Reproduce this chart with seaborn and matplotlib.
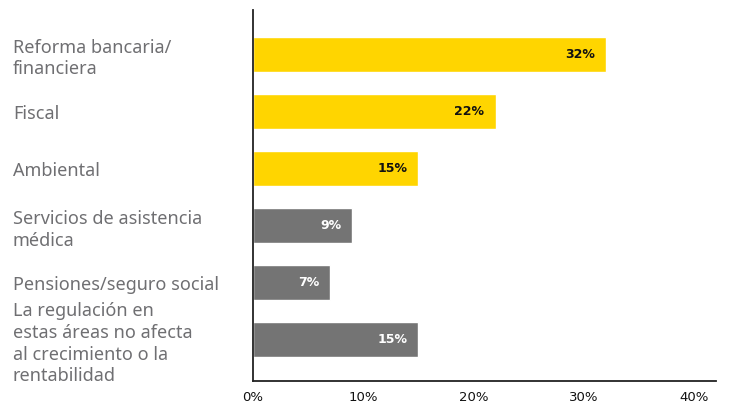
import matplotlib
matplotlib.use("Agg")
import matplotlib.pyplot as plt
import seaborn as sns
import pandas as pd

categories = [
    "Reforma bancaria/\nfinanciera",
    "Fiscal",
    "Ambiental",
    "Servicios de asistencia\nmédica",
    "Pensiones/seguro social",
    "La regulación en\nestas áreas no afecta\nal crecimiento o la\nrentabilidad",
]
values = [32, 22, 15, 9, 7, 15]
groups = ["alto", "alto", "alto", "bajo", "bajo", "bajo"]
tick_values = [0, 10, 20, 30, 40]
tick_labels = ["0%", "10%", "20%", "30%", "40%"]

YELLOW = "#FFD500"
GRAY = "#747474"
palette = {"alto": YELLOW, "bajo": GRAY}
label_colors = {"alto": "#111111", "bajo": "white"}

df = pd.DataFrame({"categoria": categories, "valor": values, "grupo": groups})

sns.set_style("white")
plt.rcParams["font.family"] = ["Noto Sans", "DejaVu Sans"]

fig = plt.figure(figsize=(7.31, 4.09), dpi=100)
ax = fig.add_axes([253 / 731, 28 / 409, (716 - 253) / 731, (381 - 10) / 409])

sns.barplot(data=df, x="valor", y="categoria", hue="grupo", palette=palette,
            dodge=False, width=0.61, legend=False, ax=ax, saturation=1)

ax.set_xlim(0, 42)
ax.set_ylim(5.72, -0.78)
ax.set_xticks(tick_values)
ax.set_xticklabels(tick_labels, fontsize=9.5, color="#111111", family="DejaVu Sans")
ax.set_xlabel("")
ax.set_ylabel("")

# value labels at the end of each bar
for i, (v, g) in enumerate(zip(values, groups)):
    ax.annotate(f"{v}%", xy=(v, i), xytext=(-8, 0), textcoords="offset points",
                ha="right", va="center", fontsize=9, fontweight="bold",
                family="DejaVu Sans", color=label_colors[g])

# category labels left-aligned at the figure margin
ax.tick_params(axis="y", length=0, pad=(253 - 13) * 0.72)
for lbl in ax.get_yticklabels():
    lbl.set_horizontalalignment("left")
    lbl.set_fontsize(13)
    lbl.set_color("#6f6f72")
    lbl.set_linespacing(1.27)

ax.tick_params(axis="x", direction="out", length=4, width=1.2, color="#222222", pad=3)
for side in ["top", "right"]:
    ax.spines[side].set_visible(False)
for side in ["left", "bottom"]:
    ax.spines[side].set_color("#222222")
    ax.spines[side].set_linewidth(1.3)

fig.savefig("out.png", dpi=100)
